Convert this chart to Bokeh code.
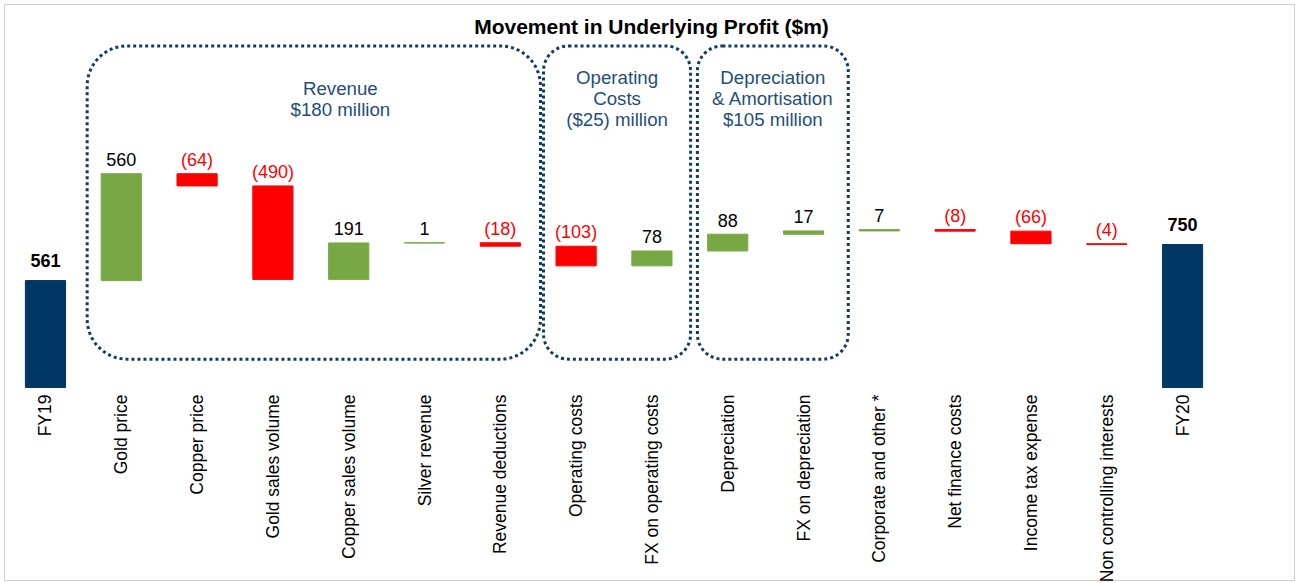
from math import pi

from bokeh.core.properties import value
from bokeh.embed import file_html
from bokeh.models import BoxAnnotation, ColumnDataSource, FixedTicker, InlineStyleSheet, Range1d
from bokeh.plotting import figure
from bokeh.resources import INLINE

# ---------------- data ----------------
title = "Movement in Underlying Profit ($m)"
categories = [
    "FY19", "Gold price", "Copper price", "Gold sales volume", "Copper sales volume",
    "Silver revenue", "Revenue deductions", "Operating costs", "FX on operating costs",
    "Depreciation", "FX on depreciation", "Corporate and other *", "Net finance costs",
    "Income tax expense", "Non controlling interests", "FY20",
]
movements = [561, 560, -64, -490, 191, 1, -18, -103, 78, 88, 17, 7, -8, -66, -4, 750]
is_total = [True] + [False] * 14 + [True]
value_labels = ["561", "560", "(64)", "(490)", "191", "1", "(18)", "(103)", "78",
                "88", "17", "7", "(8)", "(66)", "(4)", "750"]
group_labels = ["Revenue\n$180 million",
                "Operating\nCosts\n($25) million",
                "Depreciation\n& Amortisation\n$105 million"]
group_first = [1, 7, 9]
group_last = [6, 8, 10]

# ---------------- styles ----------------
NAVY = "#003764"
GREEN = "#77A843"
RED = "#FF0000"
GROUP_TXT = "#1F4E79"
DOTS = "#0F3B66"
FONT = "Liberation Sans"

# waterfall geometry computed from the movements
bottoms, tops, colors, xs = [], [], [], []
running = 0
for i, (v, tot) in enumerate(zip(movements, is_total)):
    if tot:
        b, t = 0, v
        running = v
        c = NAVY
    else:
        b, t = running, running + v
        running += v
        c = GREEN if v >= 0 else RED
    bottoms.append(min(b, t))
    tops.append(max(b, t))
    colors.append(c)
    xs.append(i)

frame_top = 42
frame_h = 346
y0, y1 = -5, 1809
scale = frame_h / (y1 - y0)  # px per unit
gap = 14 / scale
gap_total = 20 / scale

src = ColumnDataSource(dict(x=xs, bottom=bottoms, top=tops, color=colors))

lab_x_d = [x for x, t in zip(xs, is_total) if not t]
lab_y_d = [tp + gap for tp, t in zip(tops, is_total) if not t]
lab_t_d = [s for s, t in zip(value_labels, is_total) if not t]
lab_c_d = ["#000000" if v >= 0 else RED for v, t in zip(movements, is_total) if not t]
lab_x_t = [x for x, t in zip(xs, is_total) if t]
lab_y_t = [tp + gap_total for tp, t in zip(tops, is_total) if t]
lab_t_t = [s for s, t in zip(value_labels, is_total) if t]

p = figure(
    frame_width=1288, frame_height=frame_h,
    min_border_left=7, min_border_right=4, min_border_top=frame_top, min_border_bottom=195,
    x_range=Range1d(-0.501, 16.49), y_range=Range1d(y0, y1),
    output_backend="svg", toolbar_location=None, title=title,
)
p.title.align = "center"
p.title.text_font = FONT
p.title.text_font_size = "21px"
p.title.text_font_style = "bold"
p.title.text_color = "#000000"
p.title.standoff = 10

p.outline_line_color = None
p.grid.visible = False
p.yaxis.visible = False
p.background_fill_color = None
p.border_fill_color = None
p.stylesheets = [InlineStyleSheet(css=":host { background: white; outline: 1px solid #CFCFCF; outline-offset: -5px; }")]

xa = p.xaxis[0]
xa.ticker = FixedTicker(ticks=xs)
xa.major_label_overrides = {i: c for i, c in enumerate(categories)}
xa.major_label_orientation = pi / 2
xa.major_label_text_font = FONT
xa.major_label_text_font_size = "17.5px"
xa.major_label_text_color = "#000000"
xa.major_label_standoff = 6
xa.axis_line_color = None
xa.major_tick_line_color = None
xa.minor_tick_line_color = None
xa.major_tick_out = 0
xa.major_tick_in = 0

p.vbar(x="x", bottom="bottom", top="top", width=0.53, fill_color="color",
       line_color="color", line_width=1, source=src)

p.text(x=lab_x_d, y=lab_y_d, text=lab_t_d, text_color=lab_c_d,
       text_font=value(FONT), text_font_size="18px", text_align="center",
       text_baseline="alphabetic")
p.text(x=lab_x_t, y=lab_y_t, text=lab_t_t, text_color="#000000",
       text_font=value(FONT), text_font_size="18px", text_font_style="bold",
       text_align="center", text_baseline="alphabetic")

# dotted rounded group boxes
box_top = 1791
box_bottom = 149
radii = [40, 25, 25]
pad_left = [0.45, 0.43, 0.40]
pad_right = [0.53, 0.51, 0.59]
label_shift = [0.35, 0.0, 0.0]
gx, gy, gt = [], [], []
for lab, f, l, r, pl, pr, sh in zip(group_labels, group_first, group_last, radii,
                                    pad_left, pad_right, label_shift):
    left = f - pl
    right = l + pr
    p.add_layout(BoxAnnotation(left=left, right=right, top=box_top, bottom=box_bottom,
                               fill_alpha=0, line_color=DOTS, line_alpha=1,
                               line_width=3, line_dash="3 3", border_radius=r))
    gx.append((left + right) / 2 + sh)
    gy.append(1515)
    gt.append(lab)

p.text(x=gx, y=gy, text=gt, text_color=GROUP_TXT, text_font=value(FONT),
       text_font_size="18.7px", text_align="center", text_baseline="middle",
       text_line_height=1.0)

open("out.html", "w").write(file_html(p, INLINE))
